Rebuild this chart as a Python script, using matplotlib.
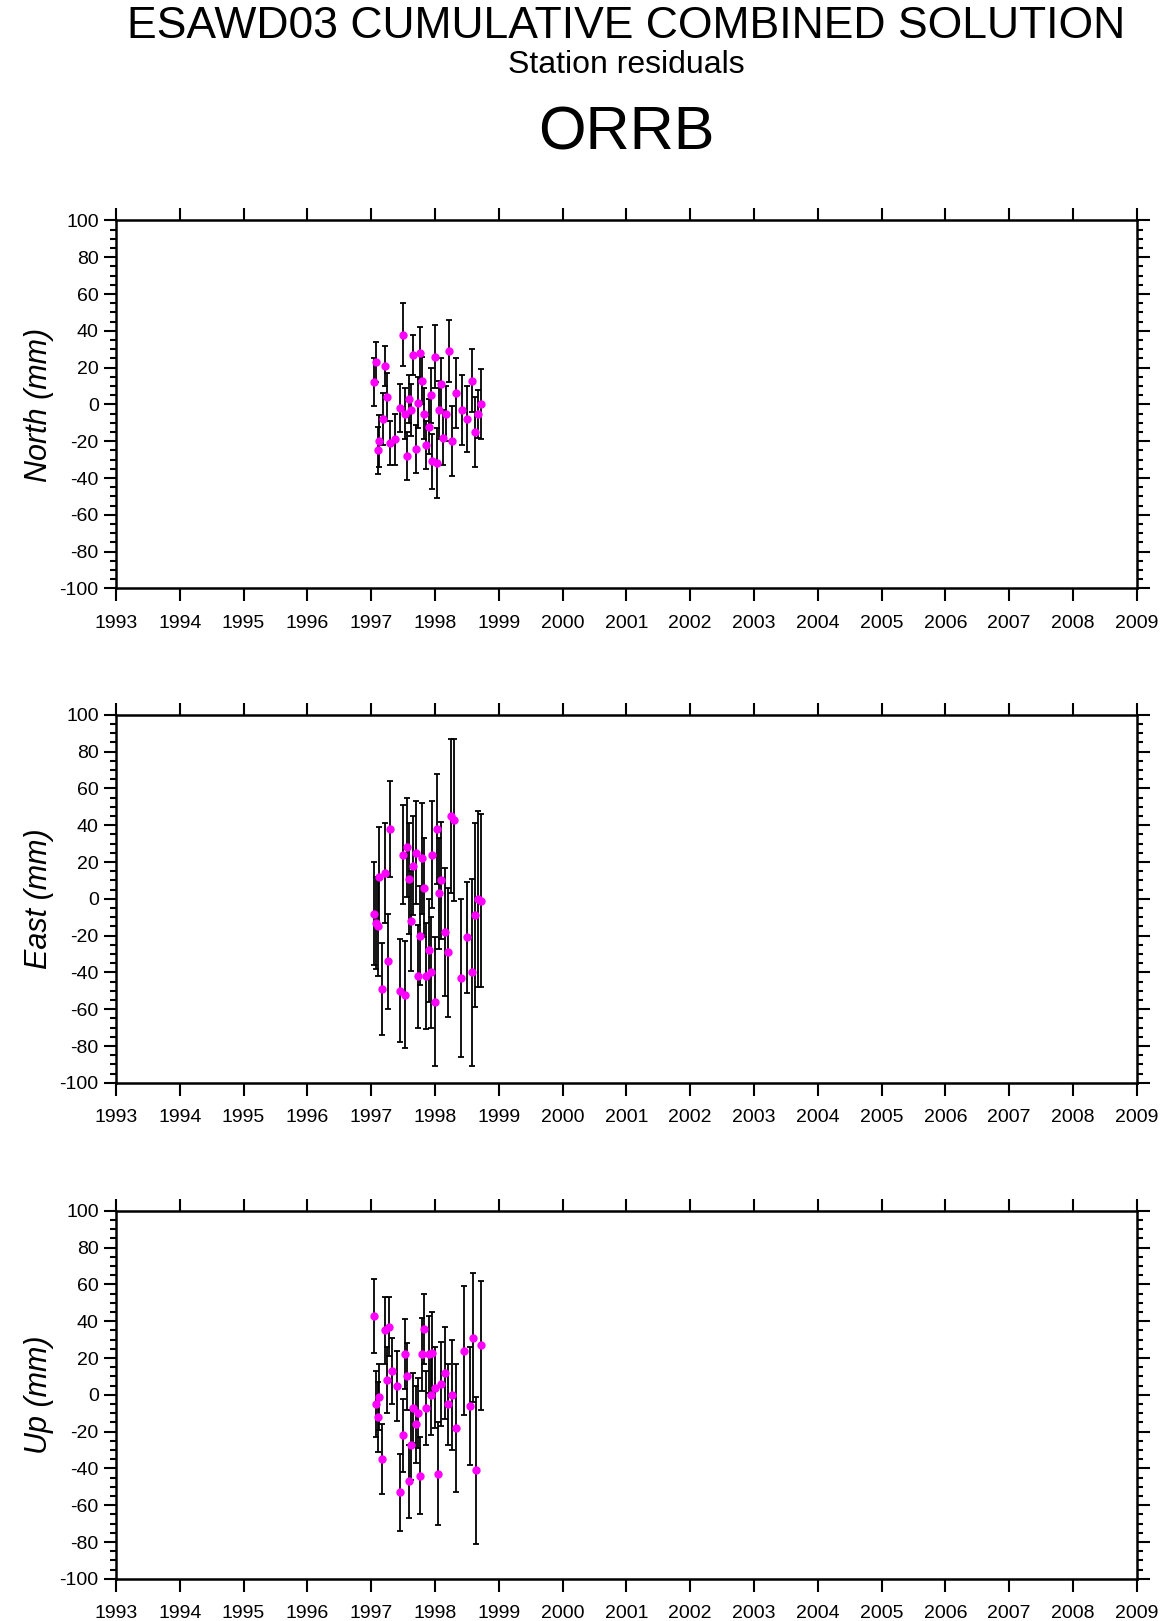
import matplotlib.pyplot as plt
from matplotlib.ticker import MultipleLocator

plt.rcParams['font.family'] = ['Liberation Sans', 'DejaVu Sans']
plt.rcParams['axes.unicode_minus'] = False

# North residuals (year, mm, sigma)
north_t = [1997.05, 1997.08, 1997.1, 1997.13, 1997.18, 1997.22, 1997.25, 1997.3, 1997.38, 1997.45,
           1997.5, 1997.53, 1997.56, 1997.6, 1997.63, 1997.66, 1997.7, 1997.73, 1997.76, 1997.8,
           1997.83, 1997.86, 1997.9, 1997.93, 1997.96, 1998.0, 1998.03, 1998.06, 1998.1, 1998.13,
           1998.17, 1998.22, 1998.27, 1998.33, 1998.43, 1998.5, 1998.58, 1998.63, 1998.68, 1998.72]
north_v = [12, 23, -25, -20, -8, 21, 4, -21, -19, -2,
           38, -5, -28, 3, -3, 27, -24, 1, 28, 13,
           -5, -22, -12, 5, -31, 26, -32, -3, 11, -18,
           -5, 29, -20, 6, -3, -8, 13, -15, -5, 0]
north_e = [13, 11, 13, 14, 14, 11, 13, 12, 14, 13,
           17, 14, 13, 13, 14, 11, 13, 14, 14, 13,
           14, 13, 15, 15, 15, 17, 19, 16, 14, 15,
           15, 17, 19, 19, 19, 18, 17, 19, 13, 19]

east_t = [1997.05, 1997.08, 1997.1, 1997.13, 1997.17, 1997.22, 1997.27, 1997.3, 1997.45, 1997.5,
          1997.53, 1997.56, 1997.6, 1997.63, 1997.66, 1997.7, 1997.73, 1997.76, 1997.8, 1997.83,
          1997.86, 1997.9, 1997.93, 1997.96, 1998.0, 1998.03, 1998.06, 1998.1, 1998.15, 1998.2,
          1998.25, 1998.3, 1998.4, 1998.5, 1998.58, 1998.62, 1998.68, 1998.72]
east_v = [-8, -13, -15, 12, -49, 14, -34, 38, -50, 24,
          -52, 28, 11, -12, 18, 25, -42, -20, 22, 6,
          -42, -28, -40, 24, -56, 38, 3, 10, -18, -29,
          45, 43, -43, -21, -40, -9, 0, -1]
east_e = [28, 25, 27, 27, 25, 27, 26, 26, 28, 27,
          29, 27, 30, 27, 27, 28, 28, 27, 30, 27,
          29, 28, 30, 29, 35, 30, 30, 32, 35, 35,
          42, 44, 43, 30, 51, 50, 48, 47]

up_t = [1997.05, 1997.08, 1997.1, 1997.13, 1997.17, 1997.22, 1997.25, 1997.28, 1997.32, 1997.4,
        1997.45, 1997.5, 1997.53, 1997.56, 1997.6, 1997.63, 1997.66, 1997.7, 1997.73, 1997.76,
        1997.8, 1997.83, 1997.86, 1997.9, 1997.93, 1997.96, 1998.0, 1998.05, 1998.1, 1998.15,
        1998.2, 1998.27, 1998.33, 1998.45, 1998.55, 1998.6, 1998.65, 1998.72]
up_v = [43, -5, -12, -1, -35, 35, 8, 37, 13, 5,
        -53, -22, 22, 10, -47, -27, -7, -16, -10, -44,
        22, 36, -7, 22, 0, 23, 4, -43, 6, 12,
        -5, 0, -18, 24, -6, 31, -41, 27]
up_e = [20, 18, 19, 18, 19, 18, 18, 16, 18, 19,
        21, 20, 19, 18, 20, 19, 19, 21, 19, 21,
        20, 19, 20, 21, 22, 22, 22, 28, 23, 25,
        22, 30, 35, 35, 32, 35, 40, 35]

panels = [("North (mm)", north_t, north_v, north_e),
          ("East (mm)", east_t, east_v, east_e),
          ("Up (mm)", up_t, up_v, up_e)]

fig = plt.figure(figsize=(11.6, 16.21), dpi=100)
fig.text(0.54, 0.996, "ESAWD03 CUMULATIVE COMBINED SOLUTION", ha='center', va='top', fontsize=32)
fig.text(0.54, 0.969, "Station residuals", ha='center', va='top', fontsize=23)
fig.text(0.54, 0.935, "ORRB", ha='center', va='top', fontsize=44)

bottoms = [0.637, 0.332, 0.026]
for (label, t, v, e), b in zip(panels, bottoms):
    ax = fig.add_axes([0.1, b, 0.88, 0.227])
    ax.errorbar(t, v, yerr=e, fmt='none', ecolor='black', elinewidth=1.3, capsize=2.5, capthick=1.3)
    ax.plot(t, v, 'o', color='magenta', ms=5, zorder=3)
    ax.set_xlim(1993, 2009)
    ax.set_ylim(-100, 100)
    ax.xaxis.set_major_locator(MultipleLocator(1))
    ax.yaxis.set_major_locator(MultipleLocator(20))
    ax.yaxis.set_minor_locator(MultipleLocator(5))
    ax.tick_params(which='both', direction='out', top=True, right=True, labelsize=14, width=1.5)
    ax.tick_params(which='major', length=9)
    ax.tick_params(which='minor', length=4)
    ax.tick_params(axis='x', pad=10)
    ax.set_ylabel(label, fontsize=22, style='italic')
    for s in ax.spines.values():
        s.set_linewidth(1.8)

plt.savefig('out.png', dpi=100)
